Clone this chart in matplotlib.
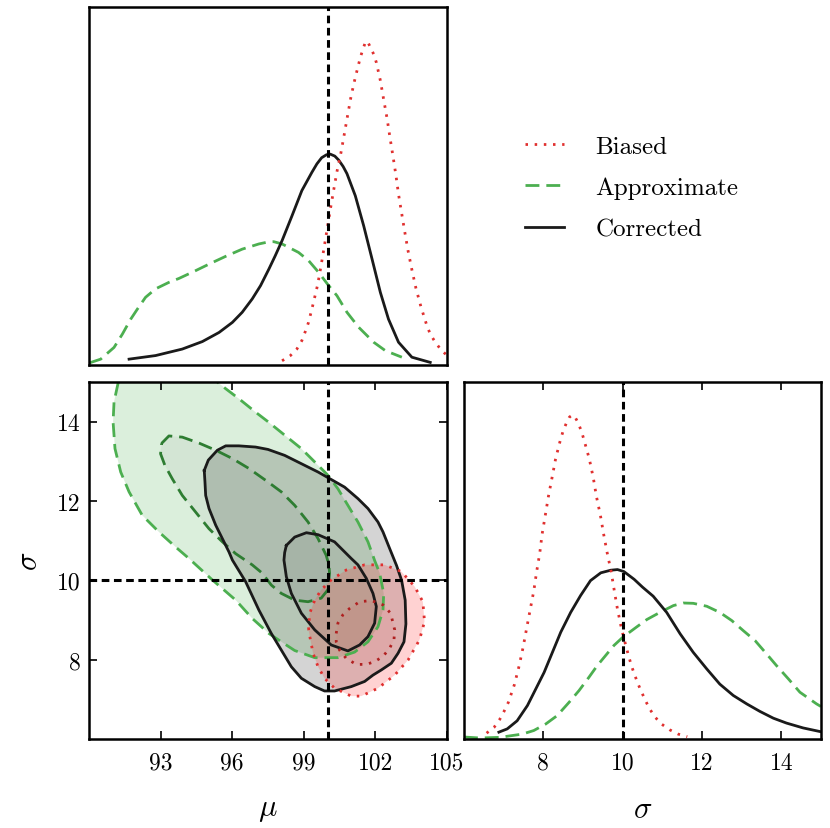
import matplotlib
matplotlib.use('Agg')
import matplotlib.pyplot as plt
from matplotlib.lines import Line2D

plt.rcParams['font.family'] = ['cmr10', 'DejaVu Serif']
plt.rcParams['mathtext.fontset'] = 'cm'
plt.rcParams['axes.formatter.use_mathtext'] = True
plt.rcParams['axes.linewidth'] = 1.8

# ---------------- data ----------------
truth_mu = 100.0
truth_sig = 10.0

labels = ['Biased', 'Approximate', 'Corrected']

# marginal of mu (top panel), peak of biased scaled to ~1
mu_red = [98.09, 98.44, 98.71, 98.92, 99.06, 99.20, 99.39, 99.58, 99.72, 99.85, 99.98,
          100.11, 100.25, 100.39, 100.56, 100.70, 100.84, 100.98, 101.16, 101.37, 101.50,
          101.60, 101.70, 101.82, 101.93, 102.04, 102.21, 102.35, 102.49, 102.61, 102.74,
          102.86, 102.97, 103.10, 103.23, 103.37, 103.53, 103.70, 103.91, 104.15, 104.30,
          104.51, 104.76, 104.98]
pmu_red = [0.013, 0.029, 0.049, 0.075, 0.102, 0.131, 0.187, 0.246, 0.303, 0.360, 0.418,
           0.477, 0.536, 0.594, 0.653, 0.710, 0.768, 0.825, 0.884, 0.945, 0.975,
           0.995, 0.990, 0.972, 0.955, 0.930, 0.874, 0.815, 0.758, 0.700, 0.641,
           0.584, 0.525, 0.467, 0.410, 0.351, 0.293, 0.236, 0.179, 0.123, 0.095,
           0.070, 0.046, 0.031]

mu_green = [90.0, 90.49, 91.05, 91.40, 91.75, 92.03, 92.37, 92.79, 93.35, 93.77, 94.47,
            95.03, 95.73, 96.42, 97.12, 97.50, 97.74, 98.09, 98.78, 99.20, 99.62, 99.99,
            100.39, 100.81, 101.30, 101.93, 102.42, 103.11]
pmu_green = [0.006, 0.018, 0.054, 0.095, 0.141, 0.172, 0.208, 0.234, 0.254, 0.266, 0.290,
             0.310, 0.334, 0.356, 0.372, 0.378, 0.379, 0.372, 0.346, 0.321, 0.285, 0.249,
             0.213, 0.162, 0.116, 0.070, 0.044, 0.024]

mu_black = [91.68, 92.79, 93.91, 94.75, 95.45, 96.01, 96.42, 96.84, 97.19, 97.54, 97.80,
            98.09, 98.51, 98.92, 99.34, 99.55, 99.75, 99.95, 100.11, 100.30, 100.46, 100.65,
            100.81, 101.16, 101.51, 101.86, 102.21, 102.55, 102.97, 103.53, 104.30]
pmu_black = [0.018, 0.029, 0.049, 0.072, 0.100, 0.131, 0.162, 0.203, 0.244, 0.295, 0.335,
             0.382, 0.459, 0.536, 0.592, 0.618, 0.637, 0.646, 0.648, 0.642, 0.630, 0.610,
             0.588, 0.520, 0.428, 0.326, 0.223, 0.141, 0.070, 0.024, 0.008]

# marginal of sigma (right panel)
sig_red = [6.57, 6.76, 6.90, 7.01, 7.12, 7.27, 7.39, 7.49, 7.58, 7.67, 7.76, 7.83, 7.91,
           7.97, 8.05, 8.13, 8.22, 8.31, 8.43, 8.50, 8.59, 8.66, 8.73, 8.80, 8.87, 8.96,
           9.03, 9.16, 9.26, 9.34, 9.44, 9.52, 9.61, 9.71, 9.79, 9.87, 9.97, 10.09, 10.22,
           10.38, 10.48, 10.58, 10.69, 10.82, 10.98, 11.19, 11.40, 11.63]
psig_red = [0.018, 0.036, 0.060, 0.085, 0.113, 0.167, 0.225, 0.282, 0.341, 0.399, 0.456,
            0.514, 0.572, 0.631, 0.689, 0.748, 0.805, 0.863, 0.921, 0.949, 0.976, 0.992,
            0.998, 0.992, 0.976, 0.949, 0.920, 0.863, 0.805, 0.747, 0.689, 0.632, 0.574,
            0.516, 0.457, 0.400, 0.341, 0.283, 0.226, 0.172, 0.144, 0.117, 0.091, 0.067,
            0.046, 0.028, 0.015, 0.007]

sig_green = [6.0, 6.4, 6.9, 7.47, 7.76, 8.06, 8.35, 8.65, 8.90, 9.15, 9.36, 9.57, 9.78,
             10.0, 10.33, 10.61, 10.94, 11.28, 11.53, 11.78, 12.12, 12.45, 12.75, 13.04,
             13.34, 13.63, 13.88, 14.18, 14.47, 14.89, 15.0]
psig_green = [0.006, 0.003, 0.005, 0.015, 0.026, 0.046, 0.072, 0.113, 0.149, 0.190, 0.226,
              0.257, 0.288, 0.313, 0.343, 0.368, 0.390, 0.411, 0.419, 0.418, 0.409, 0.390,
              0.365, 0.334, 0.303, 0.262, 0.226, 0.185, 0.144, 0.108, 0.100]

sig_black = [6.88, 7.09, 7.34, 7.60, 7.81, 8.02, 8.23, 8.44, 8.69, 8.94, 9.19, 9.45, 9.70,
             9.87, 10.03, 10.29, 10.50, 10.77, 11.11, 11.45, 11.78, 12.12, 12.45, 12.79,
             13.13, 13.46, 13.80, 14.13, 14.55, 14.97]
psig_black = [0.021, 0.031, 0.056, 0.103, 0.154, 0.205, 0.267, 0.329, 0.390, 0.442, 0.488,
              0.512, 0.520, 0.522, 0.516, 0.492, 0.468, 0.440, 0.390, 0.324, 0.267, 0.216,
              0.169, 0.134, 0.108, 0.085, 0.064, 0.049, 0.034, 0.023]

# 2D contours (mu, sigma)
g95_mu = [91.23, 91.05, 91.01, 91.09, 91.33, 91.68, 92.23, 92.93, 93.63, 94.19, 95.17,
          96.15, 96.84, 97.54, 98.06, 98.62, 99.46, 100.43, 101.13, 101.69, 102.11, 102.32,
          102.35, 102.18, 101.97, 101.69, 101.27, 100.85, 100.43, 100.01, 99.60, 98.90,
          98.20, 97.50, 96.98, 96.28, 95.73, 95.38]
g95_sig = [15.0, 14.50, 13.99, 13.32, 12.73, 12.23, 11.64, 11.22, 10.84, 10.55, 10.01,
           9.50, 9.04, 8.66, 8.45, 8.23, 8.05, 8.05, 8.19, 8.45, 8.83, 9.25,
           9.67, 10.18, 10.50, 10.97, 11.47, 11.89, 12.31, 12.65, 12.90, 13.32,
           13.66, 14.00, 14.24, 14.58, 14.83, 15.0]

g68_mu = [93.04, 93.35, 93.91, 94.61, 95.31, 96.01, 96.70, 97.50, 98.06, 98.62, 99.18,
          99.60, 99.94, 100.05, 100.08, 100.01, 99.73, 99.18, 98.62, 98.06, 97.64, 97.26,
          96.84, 96.15, 95.59, 95.03, 94.47, 93.91, 93.49, 93.18, 93.0]
g68_sig = [13.45, 13.64, 13.61, 13.46, 13.28, 13.07, 12.82, 12.48, 12.23, 11.89, 11.47,
           11.05, 10.63, 10.40, 10.18, 9.76, 9.55, 9.46, 9.50, 9.67, 9.88, 10.18,
           10.39, 10.67, 10.97, 11.30, 11.72, 12.14, 12.56, 12.90, 13.19]

k95_mu = [94.83, 95.0, 95.38, 95.73, 96.28, 96.98, 97.50, 98.20, 98.90, 99.60, 100.01,
          100.71, 101.27, 101.69, 102.11, 102.32, 102.60, 102.89, 103.10, 103.25, 103.28,
          103.20, 102.95, 102.67, 102.25, 101.90, 101.55, 100.99, 100.29, 99.87, 99.46,
          98.90, 98.48, 98.06, 97.64, 97.12, 96.56, 96.01, 95.87, 95.59, 95.31, 95.03,
          94.89, 94.86]
k95_sig = [12.77, 13.03, 13.28, 13.39, 13.39, 13.36, 13.30, 13.15, 12.94, 12.73, 12.59,
           12.35, 12.06, 11.81, 11.47, 11.22, 10.80, 10.37, 10.0, 9.50, 8.90,
           8.45, 8.16, 7.91, 7.74, 7.61, 7.45, 7.32, 7.21, 7.21, 7.32,
           7.53, 7.82, 8.24, 8.66, 9.25, 9.97, 10.51, 10.71, 11.05, 11.39, 11.81,
           12.14, 12.48]

k68_mu = [98.27, 98.62, 99.11, 99.60, 100.29, 100.99, 101.27, 101.62, 101.90, 102.04,
          101.97, 101.69, 101.34, 100.85, 100.15, 99.46, 98.90, 98.48, 98.27, 98.17, 98.20]
k68_sig = [10.88, 11.09, 11.20, 11.15, 10.97, 10.55, 10.39, 10.05, 9.67, 9.34,
           8.92, 8.58, 8.37, 8.22, 8.37, 8.75, 9.17, 9.67, 10.09, 10.51, 10.70]

r95_mu = [99.20, 99.25, 99.46, 99.73, 100.15, 100.78, 101.55, 102.39, 103.09, 103.65,
          103.99, 104.06, 103.85, 103.37, 102.81, 102.11, 101.41, 100.99, 100.29, 99.87,
          99.60, 99.39]
r95_sig = [8.75, 9.17, 9.50, 9.76, 10.01, 10.26, 10.39, 10.39, 10.22, 9.84,
           9.46, 8.96, 8.50, 7.99, 7.61, 7.28, 7.08, 7.08, 7.28, 7.53,
           7.82, 8.16]

r68_mu = [100.36, 100.43, 100.64, 100.92, 101.34, 101.83, 102.32, 102.64, 102.81, 102.78,
          102.60, 102.32, 101.97, 101.62, 101.20, 100.78, 100.50, 100.36]
r68_sig = [8.66, 8.92, 9.13, 9.29, 9.46, 9.49, 9.38, 9.17, 8.75, 8.50,
           8.29, 8.08, 7.95, 7.88, 7.88, 8.03, 8.24, 8.45]

mu_ticks = [93, 96, 99, 102, 105]
sig_ticks = [8, 10, 12, 14]

# ---------------- styles ----------------
red = '#e0302f'
red_dark = '#b02020'
green = '#4caf50'
green_dark = '#2e7d32'
black = '#1a1a1a'
red_ls = (0, (0.9, 2.4))
green_ls = (0, (5, 2.5))
truth_ls = (0, (2.5, 1.5))
lw_line = 2.0


def closed(a):
    return list(a) + [a[0]]


fig = plt.figure(figsize=(8.3, 8.29), dpi=100)
ax_mu = fig.add_axes([0.1072, 0.5585, 0.4313, 0.4318])
ax_2d = fig.add_axes([0.1072, 0.1074, 0.4313, 0.4306])
ax_sig = fig.add_axes([0.559, 0.1074, 0.4301, 0.4306])
ax_leg = fig.add_axes([0.559, 0.5585, 0.4301, 0.4318])
ax_leg.axis('off')

# top: mu marginal
ax_mu.plot(mu_green, pmu_green, color=green, ls=green_ls, lw=lw_line)
ax_mu.plot(mu_black, pmu_black, color=black, lw=lw_line)
ax_mu.plot(mu_red, pmu_red, color=red, ls=red_ls, lw=lw_line)
ax_mu.axvline(truth_mu, color='k', ls=truth_ls, lw=2.2)
ax_mu.set_xlim(90, 105)
ax_mu.set_ylim(0, 1.1)
ax_mu.set_xticks([])
ax_mu.set_yticks([])

# right: sigma marginal
ax_sig.plot(sig_green, psig_green, color=green, ls=green_ls, lw=lw_line)
ax_sig.plot(sig_black, psig_black, color=black, lw=lw_line)
ax_sig.plot(sig_red, psig_red, color=red, ls=red_ls, lw=lw_line)
ax_sig.axvline(truth_sig, color='k', ls=truth_ls, lw=2.2)
ax_sig.set_xlim(6, 15)
ax_sig.set_ylim(0, 1.1)
ax_sig.set_yticks([])
ax_sig.set_xticks(sig_ticks)
ax_sig.set_xticklabels([str(t) for t in sig_ticks])
ax_sig.tick_params(axis='x', direction='in', top=True, length=6, width=1.2,
                   labelsize=17, pad=9)
ax_sig.set_xlabel(r'$\sigma$', fontsize=22, labelpad=16)

# 2D panel
ax_2d.fill(g95_mu, g95_sig, color=green, alpha=0.2, lw=0)
ax_2d.fill(g68_mu, g68_sig, color='#777777', alpha=0.08, lw=0)
ax_2d.fill(k95_mu, k95_sig, color='k', alpha=0.17, lw=0)
ax_2d.fill(k68_mu, k68_sig, color='k', alpha=0.05, lw=0)
ax_2d.fill(r95_mu, r95_sig, color='#ff3333', alpha=0.22, lw=0)
ax_2d.fill(r68_mu, r68_sig, color='#ff3333', alpha=0.06, lw=0)

ax_2d.plot(g95_mu, g95_sig, color=green, ls=green_ls, lw=lw_line)
ax_2d.plot(closed(g68_mu), closed(g68_sig), color=green_dark, ls=green_ls, lw=lw_line)
ax_2d.plot(closed(k95_mu), closed(k95_sig), color=black, lw=lw_line)
ax_2d.plot(closed(k68_mu), closed(k68_sig), color=black, lw=lw_line)
ax_2d.plot(closed(r95_mu), closed(r95_sig), color=red, ls=red_ls, lw=lw_line)
ax_2d.plot(closed(r68_mu), closed(r68_sig), color=red_dark, ls=red_ls, lw=lw_line)

ax_2d.axvline(truth_mu, color='k', ls=truth_ls, lw=2.2)
ax_2d.axhline(truth_sig, color='k', ls=truth_ls, lw=2.2)
ax_2d.set_xlim(90, 105)
ax_2d.set_ylim(6, 15)
ax_2d.set_xticks(mu_ticks)
ax_2d.set_xticklabels([str(t) for t in mu_ticks])
ax_2d.set_yticks(sig_ticks)
ax_2d.set_yticklabels([str(t) for t in sig_ticks])
ax_2d.tick_params(direction='in', top=True, right=True, length=6, width=1.2,
                  labelsize=17)
ax_2d.tick_params(axis='x', pad=9)
ax_2d.tick_params(axis='y', pad=6)
ax_2d.set_xlabel(r'$\mu$', fontsize=22, labelpad=16)
ax_2d.set_ylabel(r'$\sigma$', fontsize=22, labelpad=10)

# legend
handles = [Line2D([], [], color=red, ls=red_ls, lw=lw_line),
           Line2D([], [], color=green, ls=green_ls, lw=lw_line),
           Line2D([], [], color=black, lw=lw_line)]
ax_leg.legend(handles, labels, loc='center', bbox_to_anchor=(0.47, 0.495),
              frameon=False, fontsize=18, handlelength=1.55, handletextpad=1.25,
              labelspacing=0.75)

fig.savefig('out.png', dpi=100)
